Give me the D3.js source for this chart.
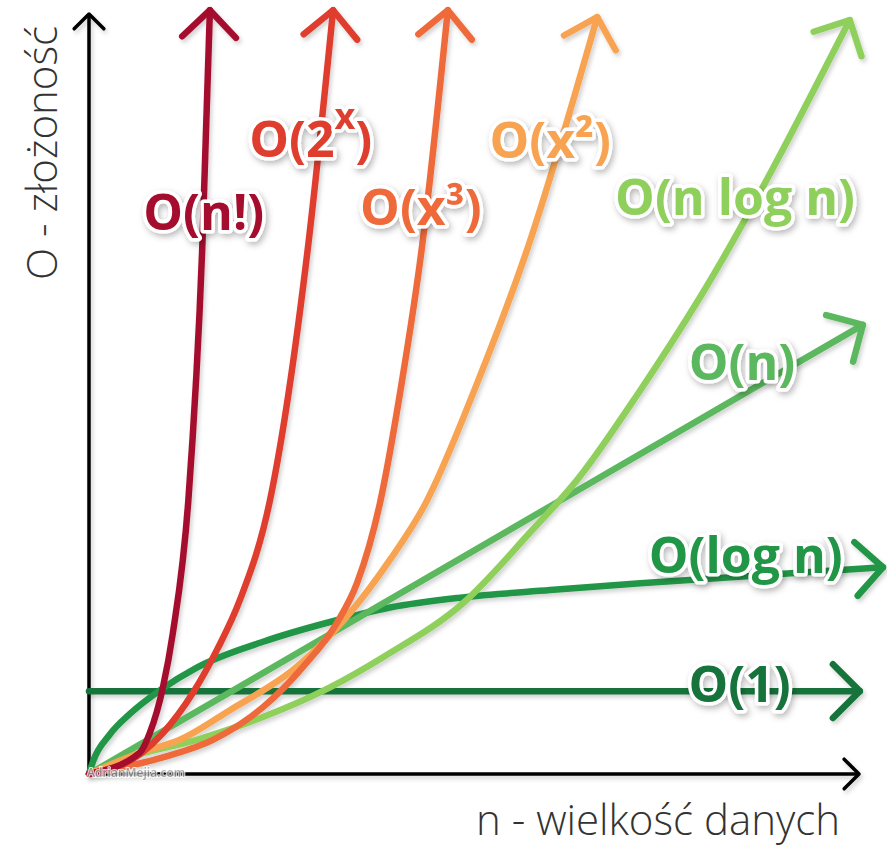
<!DOCTYPE html>
<html><head><meta charset="utf-8">
<script src="https://cdn.jsdelivr.net/npm/d3@7"></script>
<style>body{margin:0;background:#fff}</style>
</head><body><svg id="c" width="887" height="849"></svg>
<script>
// ---- data (x: input size n, y: complexity, arbitrary units 0..100) ----
const seriesNames = ["O(n!)", "O(2^x)", "O(x³)", "O(x²)", "O(n log n)", "O(n)", "O(log n)", "O(1)"];
const factorialN = [[0,0],[6.6,2.8],[7.9,5.4],[9.6,11.4],[10.9,18.6],[12.9,36],[14.7,69],[15.7,100.5]];
const exponential = [[0,0],[7.0,2.9],[9.6,5.4],[13.5,10.7],[16.6,16.3],[19.6,22.9],[23.5,36],[28.4,69],[31.7,100.5]];
const cubic = [[0,0],[9.6,2.2],[16.1,4.5],[22.6,8.8],[27.8,14.1],[32.2,19.9],[34.8,25.1],[37.8,35.7],[40.6,51.4],[43.2,69],[46.6,100.5]];
const quadratic = [[0,0],[6.6,2.8],[11.8,4.5],[18.3,8.4],[27.0,14.1],[33.5,20.7],[39.1,28.2],[43.6,35.4],[50.4,51.4],[56.9,69],[66.0,99.6]];
const nLogN = [[0,0],[5.3,2.2],[14.0,4.5],[22.6,7.5],[31.3,11.4],[38.4,15.5],[48.6,22.5],[57.3,31.8],[63.4,38.7],[71.6,50.5],[79.4,62.8],[98.8,99.2]];
const linear = [[0,0],[100.5,59.1]];
const logN = [[0,0],[0.5,1.6],[2.7,5.2],[5.3,7.9],[9.2,11.0],[14.0,14.0],[22.6,17.4],[31.3,20.0],[39.1,21.9],[48.2,23.2],[59.9,24.2],[71.6,25.1],[103.1,27.2]];
const constant = [[0,10.9],[100.1,10.9]];
const xTitle = "n - wielkość danych";
const yTitle = "O - złożoność";
const watermark = "AdrianMejia.com";

// ---- layout / style ----
const colors = ["#a50f2d","#df3d2d","#ef6a3a","#f7a351","#8fd05b","#5cb85f","#229647","#13733a"];
const allData = [factorialN, exponential, cubic, quadratic, nLogN, linear, logN, constant];
const labelAnchors = [[14.9,71.6],[28.8,81.2],[43.1,72.2],[59.9,81.1],[83.9,73.6],[84.8,51.8],[85.3,26.4],[84.5,9.5]];

const svg = d3.select("#c");
const x = d3.scaleLinear().domain([0,100]).range([89,859]);
const y = d3.scaleLinear().domain([0,100]).range([774,14]);

const defs = svg.append("defs");
const f1 = defs.append("filter").attr("id","lineShadow").attr("x","-20%").attr("y","-20%").attr("width","140%").attr("height","140%");
f1.append("feDropShadow").attr("dx",2).attr("dy",3).attr("stdDeviation",2).attr("flood-color","#000").attr("flood-opacity",0.18);
const f2 = defs.append("filter").attr("id","textShadow").attr("x","-20%").attr("y","-30%").attr("width","140%").attr("height","160%");
f2.append("feDropShadow").attr("dx",2).attr("dy",3).attr("stdDeviation",3).attr("flood-color","#000").attr("flood-opacity",0.28);

function arrowHead(g, pathNode, color, len, width) {
  const L = pathNode.getTotalLength();
  const p1 = pathNode.getPointAtLength(L);
  const p0 = pathNode.getPointAtLength(Math.max(0, L - 14));
  const a = Math.atan2(p1.y - p0.y, p1.x - p0.x);
  const b1 = a + Math.PI - Math.PI/4, b2 = a + Math.PI + Math.PI/4;
  const d = `M${p1.x + len*Math.cos(b1)},${p1.y + len*Math.sin(b1)}L${p1.x},${p1.y}L${p1.x + len*Math.cos(b2)},${p1.y + len*Math.sin(b2)}`;
  g.append("path").attr("d", d).attr("fill","none").attr("stroke",color)
    .attr("stroke-width",width).attr("stroke-linecap","round").attr("stroke-linejoin","round");
}

// axes
const axisG = svg.append("g").attr("filter","url(#lineShadow)");
const yAxisPath = axisG.append("path")
  .attr("d", d3.line()([[x(0), y(0)+2], [x(0), y(100)]]))
  .attr("stroke","#000").attr("stroke-width",3.5).attr("fill","none");
arrowHead(axisG, yAxisPath.node(), "#000", 21, 3.5);
const xAxisPath = axisG.append("path")
  .attr("d", d3.line()([[x(0)-1, y(0)], [x(100), y(0)]]))
  .attr("stroke","#000").attr("stroke-width",3.5).attr("fill","none");
arrowHead(axisG, xAxisPath.node(), "#000", 21, 3.5);

// curves
const line = d3.line().x(d => x(d[0])).y(d => y(d[1])).curve(d3.curveMonotoneX);
const curveG = svg.append("g").attr("filter","url(#lineShadow)");
const order = [7,6,5,4,3,2,1,0];
order.forEach(i => {
  const g = curveG.append("g");
  const p = g.append("path").attr("d", line(allData[i])).attr("fill","none")
    .attr("stroke", colors[i]).attr("stroke-width", 6.5).attr("stroke-linecap","round");
  arrowHead(g, p.node(), colors[i], 38, 6.5);
});

// watermark
svg.append("text").attr("x", x(0)-2).attr("y", y(0)+3)
  .attr("font-family","Open Sans, sans-serif").attr("font-size",12).attr("font-weight",600)
  .attr("fill","#9a9a9a").attr("stroke","#fff").attr("stroke-width",2).attr("paint-order","stroke")
  .attr("opacity",0.8).text(watermark);

// labels
const labelG = svg.append("g").attr("filter","url(#textShadow)");
seriesNames.forEach((name, i) => {
  const t = labelG.append("text")
    .attr("x", x(labelAnchors[i][0])).attr("y", y(labelAnchors[i][1]))
    .attr("text-anchor","middle")
    .attr("font-family","Open Sans, sans-serif").attr("font-weight",700).attr("font-size",50)
    .attr("fill", colors[i]).attr("stroke","#fff").attr("stroke-width",7)
    .attr("stroke-linejoin","round").attr("paint-order","stroke");
  if (name.includes("^")) {
    const [base, sup] = name.replace(")", "").split("^");
    t.append("tspan").text(base);
    t.append("tspan").attr("font-size",36).attr("dy",-28).text(sup);
    t.append("tspan").attr("dy",28).text(")");
  } else {
    t.text(name);
  }
});

// axis titles
svg.append("text").attr("x", 840).attr("y", 835).attr("text-anchor","end")
  .attr("font-family","Open Sans, sans-serif").attr("font-weight",300).attr("font-size",42)
  .attr("fill","#333").text(xTitle);
svg.append("text").attr("transform","translate(57,153) rotate(-90)").attr("text-anchor","middle")
  .attr("font-family","Open Sans, sans-serif").attr("font-weight",300).attr("font-size",42)
  .attr("fill","#333").text(yTitle);
</script></body></html>
